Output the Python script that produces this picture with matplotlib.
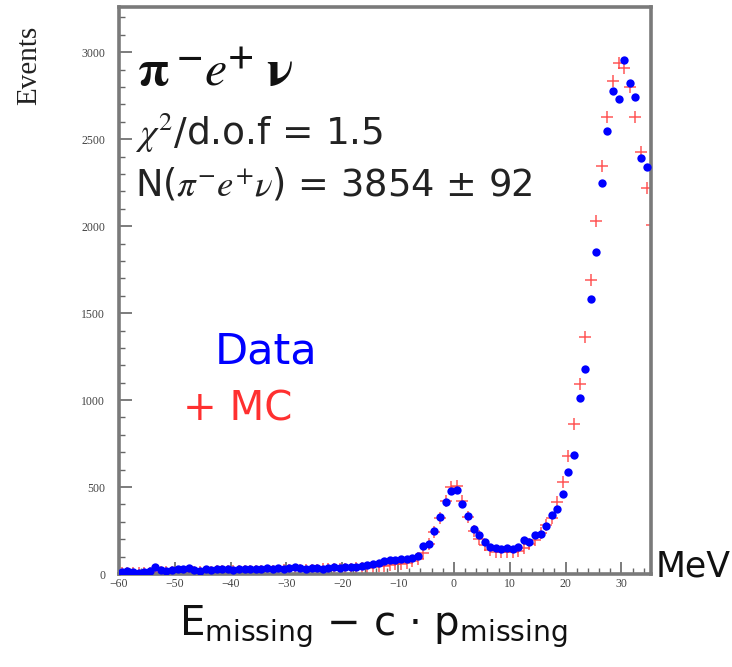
import numpy as np
import matplotlib
matplotlib.use("Agg")
import matplotlib.pyplot as plt
from matplotlib.ticker import MultipleLocator

# ---- data (bin centres, 1 MeV bins) ----
bin_centres = np.arange(-59.5, 35.0, 1.0)

data_counts = [
    10, 15, 12, 8, 10, 20, 38, 25, 15, 22,
    28, 30, 35, 25, 20, 30, 25, 28, 30, 27,
    25, 30, 28, 26, 30, 28, 32, 30, 35, 30,
    32, 38, 33, 30, 36, 34, 30, 35, 38, 36,
    40, 38, 42, 45, 50, 55, 62, 72, 80, 82,
    84, 86, 90, 105, 160, 175, 250, 330, 415, 480,
    485, 400, 333, 257, 224, 186, 157, 148, 142, 148,
    142, 157, 195, 186, 224, 228, 276, 339, 372, 460,
    588, 684, 1011, 1178, 1580, 1851, 2247, 2546, 2776, 2730,
    2954, 2822, 2741, 2391, 2339,
]

mc_centres = np.arange(-59.5, 36.0, 1.0)
mc_counts = [
    5, 5, 6, 6, 7, 8, 8, 9, 10, 10,
    11, 12, 12, 13, 13, 14, 14, 15, 15, 16,
    16, 17, 17, 18, 18, 19, 19, 20, 20, 21,
    22, 22, 23, 24, 25, 25, 26, 27, 28, 29,
    30, 31, 33, 35, 37, 40, 44, 48, 52, 56,
    60, 65, 72, 85, 120, 170, 240, 320, 420, 500,
    505, 420, 330, 250, 200, 165, 140, 128, 124, 126,
    128, 135, 150, 170, 195, 235, 280, 322, 416, 531,
    678, 862, 1092, 1362, 1690, 2030, 2345, 2626, 2833, 2937,
    2908, 2799, 2626, 2425, 2218, 2006,
]

x_ticks = [-60, -50, -40, -30, -20, -10, 0, 10, 20, 30]
y_ticks = [0, 500, 1000, 1500, 2000, 2500, 3000]

plt.rcParams['mathtext.fontset'] = 'dejavusans'

fig = plt.figure(figsize=(7.32, 6.67), dpi=100)
ax = fig.add_axes([0.1626, 0.1394, 0.7268, 0.8501])

ax.plot(mc_centres, mc_counts, linestyle='none', marker='+', markersize=8,
        markeredgewidth=1.1, color='#ff3b3b', alpha=0.85, zorder=2)
ax.plot(bin_centres, data_counts, linestyle='none', marker='o', markersize=6,
        color='#0000ff', markeredgewidth=0, zorder=3)

ax.set_xlim(-60, 35.3)
ax.set_ylim(0, 3260)

ax.set_xticks(x_ticks)
ax.set_yticks(y_ticks)
ax.xaxis.set_minor_locator(MultipleLocator(2))
ax.yaxis.set_minor_locator(MultipleLocator(100))
ax.tick_params(which='both', direction='in', top=False, right=False,
               colors='#666666', labelcolor='#444444')
ax.tick_params(which='major', length=9, width=1.2, labelsize=8.5)
ax.tick_params(which='minor', length=4.5, width=1.0)
for lab in ax.get_xticklabels() + ax.get_yticklabels():
    lab.set_family('Liberation Serif')
ax.tick_params(axis='x', pad=3)
ax.tick_params(axis='y', pad=10)

for s in ax.spines.values():
    s.set_color('#7a7a7a')
    s.set_linewidth(2.6)

# annotations
ax.text(0.033, 0.885, r'$\mathbf{\pi}^{\;\mathbf{-}}\mathbf{\mathit{e}}^{\mathbf{+}}\;\mathbf{\nu}$',
        transform=ax.transAxes, fontsize=36, color='#111111', va='center', ha='left',
        math_fontfamily='stix')
ax.text(0.03, 0.778, r'$\chi^2$/d.o.f = 1.5', transform=ax.transAxes,
        fontsize=27, color='#222222', va='center', ha='left', math_fontfamily='stix')
ax.text(0.03, 0.686, r'N($\pi^{-}e^{+}\nu$) = 3854 ± 92', transform=ax.transAxes,
        fontsize=26.5, color='#222222', va='center', ha='left', math_fontfamily='stix')
ax.text(0.18, 0.393, 'Data', transform=ax.transAxes, fontsize=31,
        color='#0000ff', va='center', ha='left')
ax.text(0.12, 0.29, '+ MC', transform=ax.transAxes, fontsize=29,
        color='#ff3030', va='center', ha='left')

fig.text(0.040, 0.9025, 'Events', rotation=90, fontsize=21, family='Liberation Serif',
         color='#222222', va='center', ha='center')
fig.text(0.896, 0.151, 'MeV', fontsize=25, color='#111111', va='center', ha='left')
fig.text(0.51, 0.060, r'E$_{\rm missing}$ $-$ c $\cdot$ p$_{\rm missing}$',
         fontsize=29, color='#111111', va='center', ha='center')

fig.savefig('out.png', dpi=100, facecolor='white')
